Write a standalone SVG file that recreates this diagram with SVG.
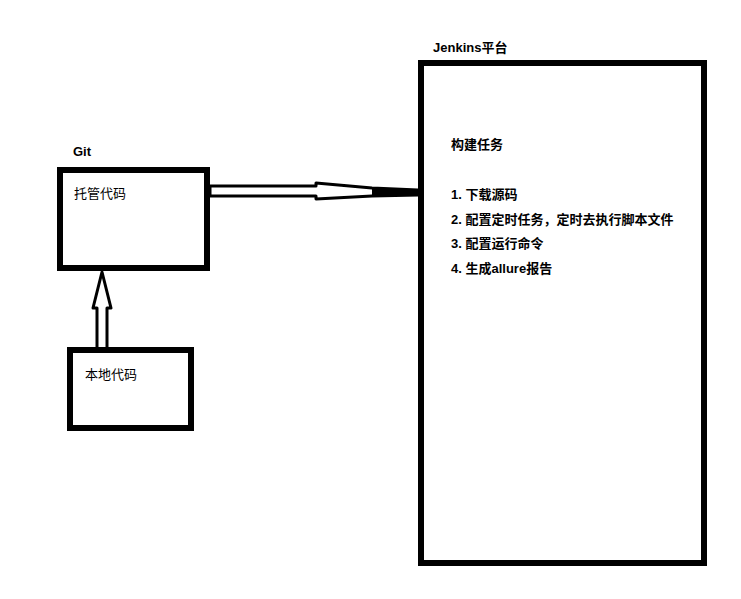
<svg xmlns="http://www.w3.org/2000/svg" width="741" height="599" viewBox="0 0 741 599">
<style>
.box{fill:#fff;stroke:#000;stroke-width:6}
.arr{fill:#fff;stroke:#000;stroke-width:3;stroke-linejoin:round}
.t{font-family:"Liberation Sans","Noto Sans CJK SC",sans-serif;font-size:13px;fill:#000}
.b{font-weight:bold}
</style>
<rect width="741" height="599" fill="#fff"/>
<g id="connectors">
<path class="arr" d="M210,186 L316,186 L316,183 L372,188 L418,190 L418,195 L372,196 L316,199 L316,196 L210,196 Z"/>
<path d="M372,188 L418,190 L418,195 L372,196 Z" fill="#000"/>
<path class="arr" d="M97,347 L97,308 L93,308 L102,272 L111,308 L107,308 L107,347"/>
</g>
<g id="git">
<text class="t b" x="73" y="156">Git</text>
<rect class="box" x="60" y="170" width="147" height="98"/>
<text class="t" x="74" y="198">托管代码</text>
</g>
<g id="local">
<rect class="box" x="70" y="350" width="121" height="78"/>
<text class="t" x="85" y="379">本地代码</text>
</g>
<g id="jenkins">
<text class="t b" x="433" y="52">Jenkins平台</text>
<rect class="box" x="421" y="63" width="283" height="500"/>
<text class="t b" x="451" y="149">构建任务</text>
<text class="t b" x="451" y="199">1. 下载源码</text>
<text class="t b" x="451" y="224">2. 配置定时任务，定时去执行脚本文件</text>
<text class="t b" x="451" y="248">3. 配置运行命令</text>
<text class="t b" x="451" y="273">4. 生成allure报告</text>
</g>
</svg>
